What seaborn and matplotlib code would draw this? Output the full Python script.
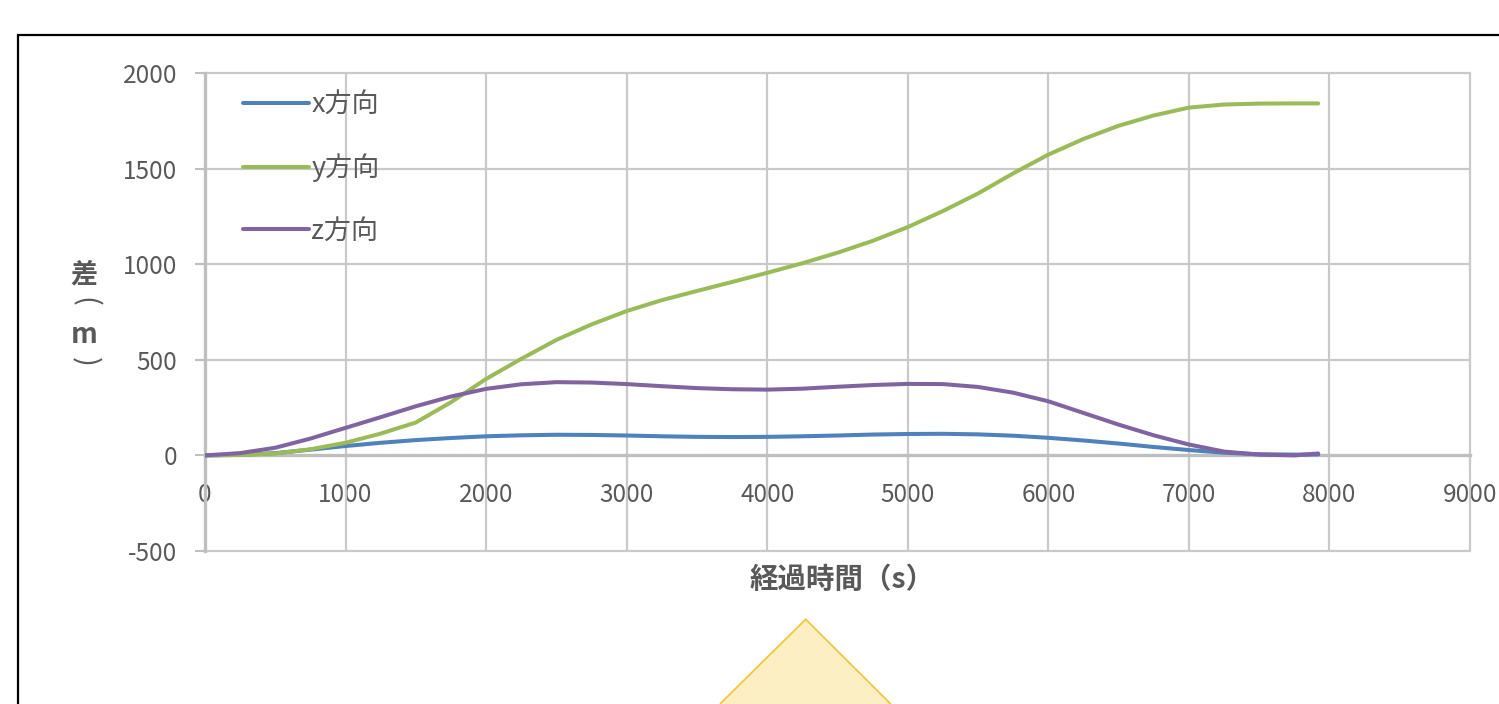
import matplotlib
matplotlib.use("Agg")
import matplotlib.pyplot as plt
import seaborn as sns
import pandas as pd
from matplotlib.patches import Rectangle, Polygon

# ---- data ----
time_s = [0, 250, 500, 750, 1000, 1250, 1500, 1750, 2000, 2250, 2500, 2750,
          3000, 3250, 3500, 3750, 4000, 4250, 4500, 4750, 5000, 5250, 5500,
          5750, 6000, 6250, 6500, 6750, 7000, 7250, 7500, 7750, 7920]
x_dir = [0, 3, 12, 30, 49, 66, 80, 91, 100, 105, 108, 107,
         104, 100, 97, 96, 97, 100, 104, 109, 112, 113, 110,
         103, 92, 78, 62, 44, 28, 14, 6, 4, 5]
y_dir = [0, 2, 10, 32, 66, 114, 172, 278, 400, 505, 604, 685,
         755, 812, 860, 907, 955, 1005, 1060, 1122, 1194, 1278, 1370,
         1475, 1573, 1655, 1724, 1778, 1819, 1835, 1840, 1841, 1841]
z_dir = [0, 12, 40, 88, 144, 200, 257, 308, 348, 372, 383, 381,
         373, 362, 352, 346, 344, 349, 359, 368, 374, 373, 358,
         328, 283, 222, 161, 105, 57, 20, 4, 0, 10]
series_names = ["x方向", "y方向", "z方向"]
series_colors = ["#4F81BD", "#9BBB59", "#8064A2"]
x_ticks = [0, 1000, 2000, 3000, 4000, 5000, 6000, 7000, 8000, 9000]
y_ticks = [-500, 0, 500, 1000, 1500, 2000]
x_label = "経過時間（s）"

df = pd.concat([
    pd.DataFrame({"t": time_s, "v": vals, "s": name})
    for name, vals in zip(series_names, [x_dir, y_dir, z_dir])
], ignore_index=True)

sns.set_theme(style="white")
plt.rcParams["font.family"] = ["Noto Sans CJK JP", "DejaVu Sans"]
plt.rcParams["axes.unicode_minus"] = False

W, H = 1499, 704
fig = plt.figure(figsize=(W / 100, H / 100), dpi=100)
ax = fig.add_axes([205 / W, 1 - 551 / H, (1470 - 205) / W, (551 - 73) / H])

text_col = "#595959"
grid_col = "#C9C9C9"
axis_col = "#BFBFBF"

ax.set_axisbelow(True)
for xt in x_ticks[1:]:
    ax.axvline(xt, color=grid_col, lw=1.6, zorder=1, clip_on=False)
for yt in y_ticks:
    if yt != 0:
        ax.axhline(yt, color=grid_col, lw=1.6, zorder=1, clip_on=False)

sns.lineplot(data=df, x="t", y="v", hue="s", hue_order=series_names,
             palette=dict(zip(series_names, series_colors)), sort=False,
             linewidth=2.9, ax=ax, zorder=3)
for ln in ax.get_lines():
    ln.set_solid_joinstyle("round")
    ln.set_solid_capstyle("round")

ax.set_xlim(0, 9000)
ax.set_ylim(-500, 2000)
ax.set_xticks(x_ticks)
ax.set_yticks(y_ticks)
ax.set_xlabel("")
ax.set_ylabel("")

for side in ["top", "right"]:
    ax.spines[side].set_visible(False)
ax.spines["bottom"].set_position(("data", 0))
ax.spines["bottom"].set_color(axis_col)
ax.spines["bottom"].set_linewidth(2.4)
ax.spines["bottom"].set_zorder(2)
ax.spines["left"].set_color(axis_col)
ax.spines["left"].set_linewidth(2.4)
ax.spines["left"].set_zorder(2)

ax.tick_params(axis="y", direction="out", length=7, width=1.5, color=axis_col,
               labelsize=17.5, labelcolor=text_col, pad=13, left=True)
ax.tick_params(axis="x", direction="out", length=7, width=1.5, color=axis_col,
               labelsize=17.5, labelcolor=text_col, pad=12, bottom=True)

leg = ax.legend(loc="upper left", bbox_to_anchor=(0.03, 0.962), frameon=False,
                fontsize=19.5, handlelength=2.45, handletextpad=0.07,
                labelspacing=1.3, borderpad=0, borderaxespad=0)
for t in leg.get_texts():
    t.set_color(text_col)
for l in leg.get_lines():
    l.set_linewidth(2.9)

fig.text(842 / W, 1 - 580 / H, x_label, ha="center", va="center",
         fontsize=20.5, fontweight="bold", color=text_col)

# vertical (stacked) y-axis title: 差（m）
yl_x = 84 / W
fig.text(yl_x, 1 - 274 / H, "差", ha="center", va="center", fontsize=19.5,
         fontweight="bold", color=text_col)
fig.text(yl_x, 1 - 302 / H, "(", ha="center", va="center", fontsize=21,
         color=text_col, rotation=-90)
fig.text(yl_x, 1 - 335 / H, "m", ha="center", va="center", fontsize=20,
         fontweight="bold", color=text_col)
fig.text(yl_x, 1 - 362 / H, ")", ha="center", va="center", fontsize=21,
         color=text_col, rotation=-90)

# outer chart frame and decoration
fig.patches.append(Rectangle((18 / W, -0.2), 1.2, 0.2 + (1 - 35 / H),
                             transform=fig.transFigure, fill=False,
                             edgecolor="black", lw=1.6))
fig.patches.append(Polygon([(720 / W, 0), (805.7 / W, 1 - 619.3 / H),
                            (890.7 / W, 0)], closed=False,
                           transform=fig.transFigure, facecolor="#FDEFC4",
                           edgecolor="#F5C53A", lw=1.3))

fig.savefig("out.png", dpi=100, facecolor="white")
